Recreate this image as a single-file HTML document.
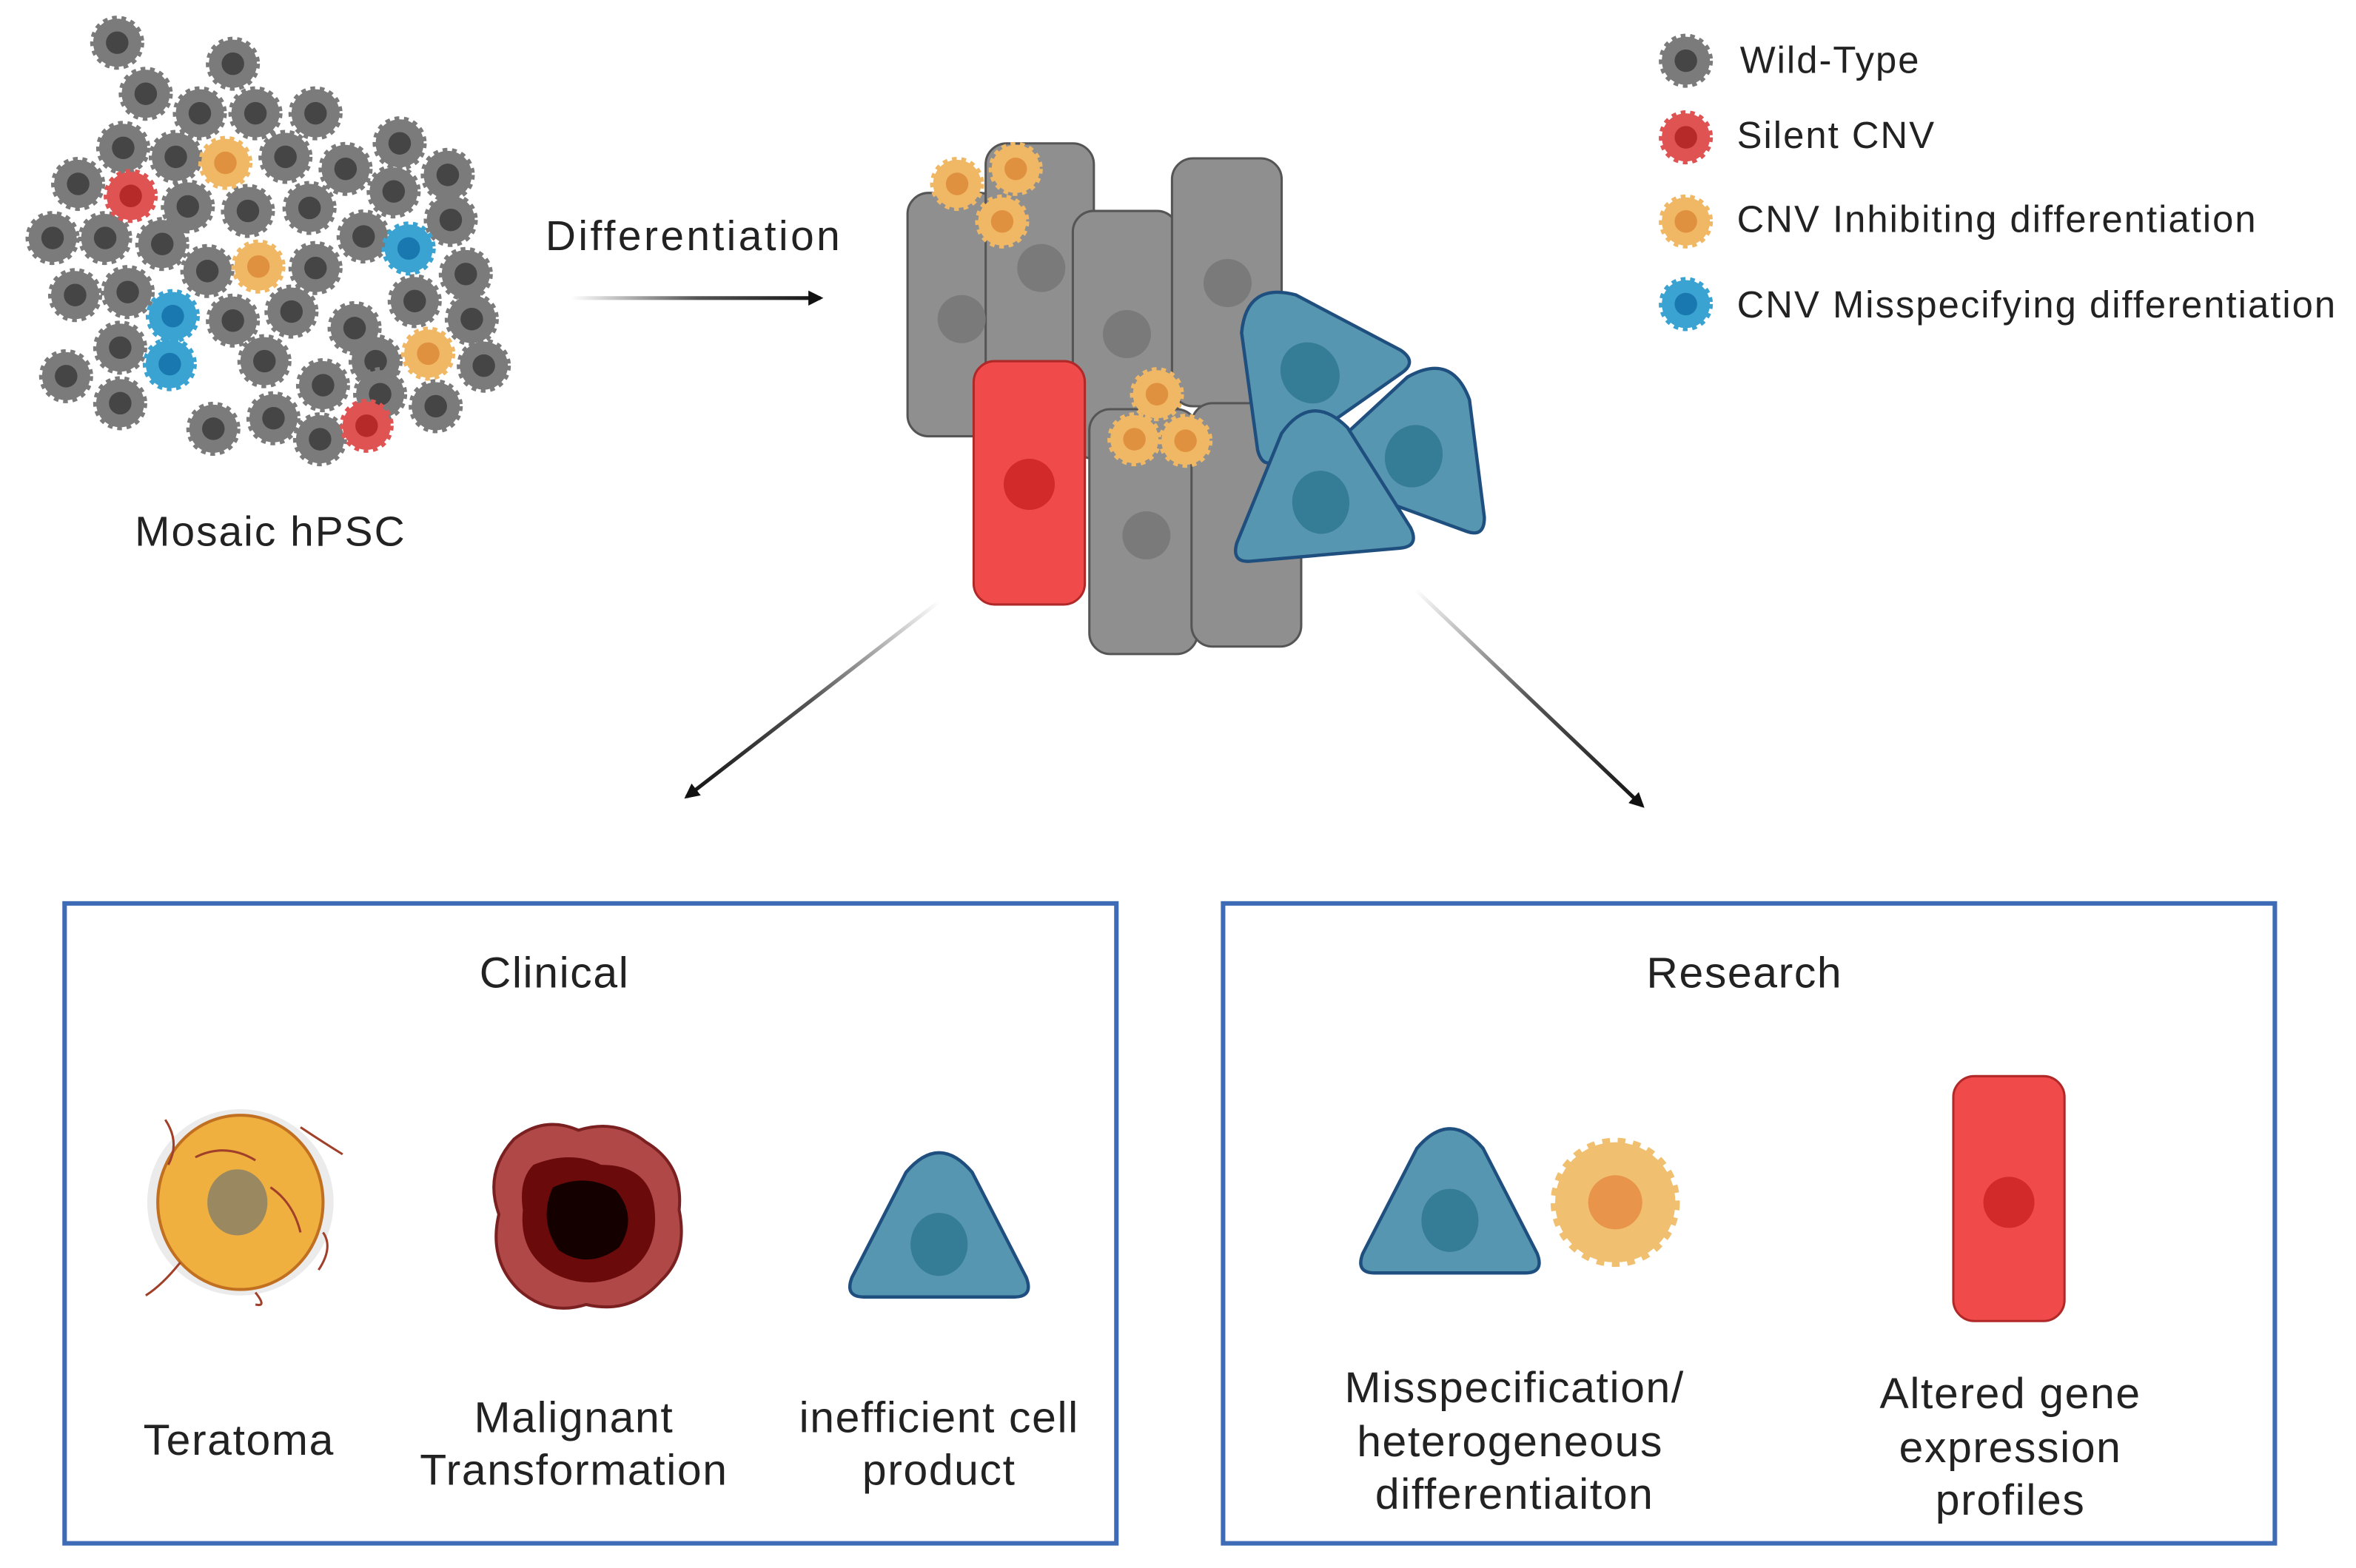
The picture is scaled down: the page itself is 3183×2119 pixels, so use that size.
<!DOCTYPE html>
<html><head><meta charset="utf-8"><style>
html,body{margin:0;padding:0;background:#fff;}
svg{display:block;}
text{font-family:"Liberation Sans",sans-serif;fill:#222;}
</style></head><body>
<svg width="3183" height="2119" viewBox="0 0 1568 1043" xmlns="http://www.w3.org/2000/svg">
<defs>
<g id="g"><circle r="16" fill="#7b7b7b" stroke="#7b7b7b" stroke-width="4" stroke-dasharray="3 3"/><circle r="7.5" fill="#454545"/></g>
<g id="r"><circle r="16" fill="#e05353" stroke="#e05353" stroke-width="4" stroke-dasharray="3 3"/><circle r="7.5" fill="#b62a2a"/></g>
<g id="o"><circle r="16" fill="#f0b865" stroke="#f0b865" stroke-width="4" stroke-dasharray="3 3"/><circle r="7.5" fill="#e0913f"/></g>
<g id="b"><circle r="16" fill="#3aa3d2" stroke="#3aa3d2" stroke-width="4" stroke-dasharray="3 3"/><circle r="7.5" fill="#1a78b0"/></g>
<g id="tri"><path d="M-50,47 Q-63,47 -58,34 L-22,-36 Q0,-62 22,-36 L58,34 Q63,47 50,47 Z" fill="#5796b0" stroke="#1f4f7e" stroke-width="2.2"/><ellipse cx="0" cy="12" rx="19" ry="21" fill="#357c97"/></g>
<linearGradient id="ag1" x1="380" y1="198" x2="548" y2="198" gradientUnits="userSpaceOnUse"><stop offset="0" stop-color="#fff"/><stop offset="0.5" stop-color="#555"/><stop offset="1" stop-color="#111"/></linearGradient>
<marker id="ah" markerWidth="10" markerHeight="10" refX="8" refY="5" orient="auto" markerUnits="userSpaceOnUse"><path d="M0,0 L10,5 L0,10 Z" fill="#111"/></marker>
</defs>

<!-- cluster -->
<g>
<use href="#g" x="78" y="28"/><use href="#g" x="155" y="42"/><use href="#g" x="97" y="62"/><use href="#g" x="133" y="75"/><use href="#g" x="170" y="75"/><use href="#g" x="210" y="75"/>
<use href="#g" x="82" y="98"/><use href="#g" x="117" y="104"/><use href="#g" x="190" y="104"/><use href="#g" x="230" y="112"/><use href="#g" x="266" y="95"/><use href="#g" x="298" y="116"/>
<use href="#g" x="52" y="122"/><use href="#g" x="125" y="137"/><use href="#g" x="165" y="140"/><use href="#g" x="206" y="138"/><use href="#g" x="262" y="127"/><use href="#g" x="300" y="146"/>
<use href="#g" x="35" y="158"/><use href="#g" x="70" y="158"/><use href="#g" x="108" y="162"/><use href="#g" x="138" y="180"/><use href="#g" x="210" y="178"/><use href="#g" x="242" y="157"/><use href="#g" x="310" y="182"/>
<use href="#g" x="50" y="196"/><use href="#g" x="85" y="194"/><use href="#g" x="155" y="213"/><use href="#g" x="194" y="207"/><use href="#g" x="236" y="218"/><use href="#g" x="276" y="200"/><use href="#g" x="314" y="212"/>
<use href="#g" x="80" y="231"/><use href="#g" x="176" y="240"/><use href="#g" x="215" y="256"/><use href="#g" x="250" y="240"/><use href="#g" x="322" y="243"/>
<use href="#g" x="44" y="250"/><use href="#g" x="80" y="268"/><use href="#g" x="142" y="285"/><use href="#g" x="182" y="278"/><use href="#g" x="213" y="292"/><use href="#g" x="253" y="262"/><use href="#g" x="290" y="270"/>
<use href="#r" x="87" y="130"/><use href="#r" x="244" y="283"/>
<use href="#o" x="150" y="108"/><use href="#o" x="172" y="177"/><use href="#o" x="285" y="235"/>
<use href="#b" x="272" y="165"/><use href="#b" x="115" y="210"/><use href="#b" x="113" y="242"/>
</g>
<text x="180" y="363" font-size="28" letter-spacing="1" text-anchor="middle">Mosaic hPSC</text>

<text x="363" y="166" font-size="28" letter-spacing="1.7">Differentiation</text>
<line x1="380" y1="198" x2="546" y2="198" stroke="url(#ag1)" stroke-width="2.5" marker-end="url(#ah)"/>

<!-- center group -->
<g stroke="#555" stroke-width="1.5" fill="#8f8f8f">
<rect x="604" y="128" width="62" height="162" rx="14"/>
<rect x="656" y="95" width="72" height="210" rx="14"/>
<rect x="714" y="140" width="70" height="165" rx="14"/>
<rect x="780" y="105" width="73" height="165" rx="14"/>
<rect x="725" y="272" width="72" height="163" rx="14"/>
<rect x="793" y="268" width="73" height="162" rx="14"/>
</g>
<g fill="#7a7a7a"><circle cx="640" cy="212" r="16"/><circle cx="693" cy="178" r="16"/><circle cx="750" cy="222" r="16"/><circle cx="817" cy="188" r="16"/><circle cx="763" cy="356" r="16"/></g>
<rect x="648" y="240" width="74" height="162" rx="14" fill="#f04a4a" stroke="#b02828" stroke-width="1.5"/>
<circle cx="685" cy="322" r="17" fill="#d22a2a"/>
<use href="#o" x="637" y="122"/><use href="#o" x="676" y="112"/><use href="#o" x="667" y="147"/>
<use href="#o" x="770" y="262"/><use href="#o" x="755" y="292"/><use href="#o" x="789" y="293"/>
<use href="#tri" transform="translate(945,292) rotate(20)"/>
<use href="#tri" transform="translate(865,238) rotate(-35)"/>
<use href="#tri" transform="translate(878,322) rotate(-5)"/>

<!-- legend -->
<use href="#g" x="1122" y="40"/><use href="#r" x="1122" y="91"/><use href="#o" x="1122" y="147"/><use href="#b" x="1122" y="202"/>
<g font-size="25" letter-spacing="1"><text x="1158" y="48">Wild-Type</text><text x="1156" y="98">Silent CNV</text><text x="1156" y="154">CNV Inhibiting differentiation</text><text x="1156" y="211">CNV Misspecifying differentiation</text></g>

<!-- diagonal arrows -->
<defs>
<linearGradient id="d1" x1="625" y1="400" x2="455" y2="532" gradientUnits="userSpaceOnUse"><stop offset="0" stop-color="#fff"/><stop offset="0.5" stop-color="#555"/><stop offset="1" stop-color="#111"/></linearGradient>
<linearGradient id="d2" x1="942" y1="392" x2="1095" y2="538" gradientUnits="userSpaceOnUse"><stop offset="0" stop-color="#fff"/><stop offset="0.5" stop-color="#555"/><stop offset="1" stop-color="#111"/></linearGradient>
</defs>
<line x1="625" y1="400" x2="457" y2="530" stroke="url(#d1)" stroke-width="2.5" marker-end="url(#ah)"/>
<line x1="942" y1="392" x2="1093" y2="536" stroke="url(#d2)" stroke-width="2.5" marker-end="url(#ah)"/>

<!-- boxes -->
<rect x="43" y="601" width="700" height="426" fill="none" stroke="#3d6bb5" stroke-width="3"/>
<rect x="814" y="601" width="700" height="426" fill="none" stroke="#3d6bb5" stroke-width="3"/>
<g font-size="29" letter-spacing="0.8" text-anchor="middle">
<text x="369" y="657">Clinical</text><text x="1161" y="657">Research</text>
<text x="159" y="968">Teratoma</text>
<text x="382" y="953">Malignant</text><text x="382" y="988">Transformation</text>
<text x="625" y="953">inefficient cell</text><text x="625" y="988">product</text>
<text x="1008" y="933">Misspecification/</text><text x="1005" y="969">heterogeneous</text><text x="1008" y="1004">differentiaiton</text>
<text x="1338" y="937">Altered gene</text><text x="1338" y="973">expression</text><text x="1338" y="1008">profiles</text>
</g>

<!-- teratoma -->
<ellipse cx="160" cy="800" rx="62" ry="62" fill="#ddd" opacity="0.6"/>
<ellipse cx="160" cy="800" rx="55" ry="58" fill="#f0b040" stroke="#c07020" stroke-width="2"/>
<ellipse cx="158" cy="800" rx="20" ry="22" fill="#9a8860"/>
<g stroke="#a0402a" stroke-width="1.5" fill="none">
<path d="M110,745 Q120,760 112,775"/><path d="M200,750 Q215,760 228,768"/><path d="M215,820 Q222,830 212,845"/><path d="M120,840 Q108,855 97,862"/><path d="M170,860 Q178,870 170,868"/><path d="M130,770 Q150,760 170,772"/><path d="M180,790 Q195,800 200,820"/>
</g>
<!-- malignant -->
<path d="M342,758 Q362,742 385,752 Q410,744 430,760 Q455,775 452,805 Q458,835 440,852 Q420,875 390,868 Q365,876 345,858 Q325,838 332,808 Q322,780 342,758 Z" fill="#b04848" stroke="#7a2020" stroke-width="2"/>
<path d="M355,775 Q380,765 400,775 Q430,775 435,800 Q440,830 420,845 Q395,860 370,848 Q345,835 348,805 Q345,785 355,775 Z" fill="#6a0a0a"/>
<path d="M368,790 Q390,780 410,792 Q425,810 412,830 Q392,845 372,832 Q358,812 368,790 Z" fill="#150000"/>
<!-- cells in boxes -->
<use href="#tri" transform="translate(625,816)"/>
<use href="#tri" transform="translate(965,800)"/>
<g transform="translate(1075,800)"><circle r="40" fill="#f0c070" stroke="#f0c070" stroke-width="6" stroke-dasharray="5 5"/><circle r="18" fill="#e8944a"/></g>
<rect x="1300" y="716" width="74" height="163" rx="14" fill="#f04a4a" stroke="#b02828" stroke-width="1.5"/>
<circle cx="1337" cy="800" r="17" fill="#d22a2a"/>
</svg>
</body></html>
